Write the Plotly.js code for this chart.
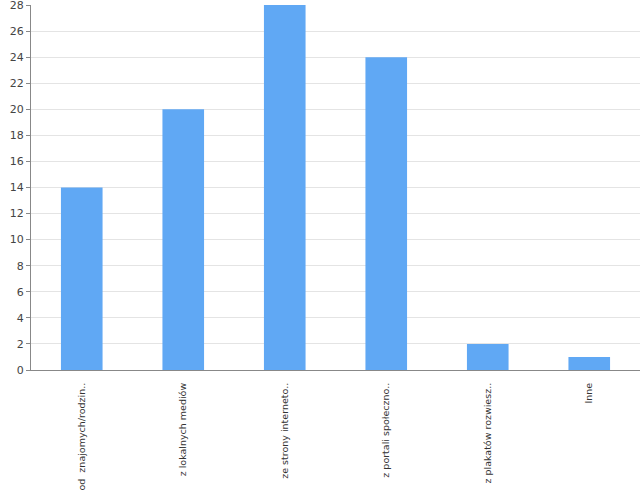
<!DOCTYPE html>
<html><head><meta charset="utf-8">
<script src="https://cdn.plot.ly/plotly-3.0.1.min.js"></script>
<style>html,body{margin:0;padding:0;background:#fff}#chart{width:640px;height:500px}</style>
</head><body><div id="chart"></div>
<script>
const categories = ["od  znajomych/rodzin..", "z lokalnych mediów", "ze strony interneto..", "z portali społeczno..", "z plakatów rozwiesz..", "Inne"];
const values = [14, 20, 28, 24, 2, 1];
const yTicks = [0,2,4,6,8,10,12,14,16,18,20,22,24,26,28];

Plotly.newPlot('chart', [{
  type: 'bar',
  x: categories,
  y: values,
  marker: {color: '#60a8f4'},
  width: 0.41,
  hoverinfo: 'none'
}], {
  width: 640, height: 500,
  margin: {l: 31, r: 0, t: 5, b: 130},
  paper_bgcolor: '#fff', plot_bgcolor: '#fff',
  showlegend: false,
  font: {family: 'DejaVu Sans, sans-serif', color: '#444'},
  xaxis: {
    type: 'category',
    tickangle: -90,
    tickfont: {size: 9.5, color: '#333'},
    showgrid: false,
    showline: true, linecolor: '#888', linewidth: 1,
    ticks: 'outside', ticklen: 8, tickcolor: 'rgba(0,0,0,0)',
    ticklabeloverflow: 'allow',
    zeroline: false
  },
  yaxis: {
    range: [0, 28],
    tickvals: yTicks,
    tickfont: {size: 11, color: '#444'},
    showgrid: true, gridcolor: '#e4e4e4',
    showline: true, linecolor: '#888', linewidth: 1,
    ticks: 'outside', ticklen: 4, tickcolor: '#888',
    ticklabeloverflow: 'allow',
    zeroline: false
  }
}, {displayModeBar: false, staticPlot: true});
</script></body></html>
